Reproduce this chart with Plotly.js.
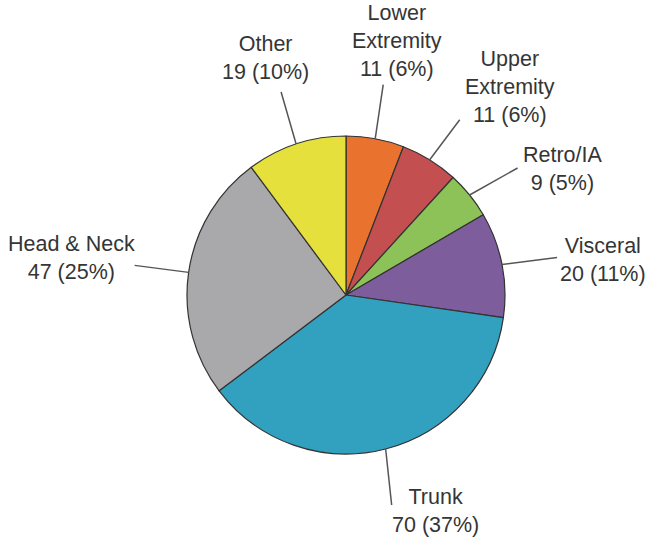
<!DOCTYPE html>
<html>
<head>
<meta charset="utf-8">
<script src="https://cdn.plot.ly/plotly-3.0.1.min.js"></script>
<style>html,body{margin:0;padding:0;background:#fff;}#chart{width:651px;height:540px;}</style>
</head>
<body>
<div id="chart"></div>
<script>
// ---- data ----
var categories = ['Lower Extremity', 'Upper Extremity', 'Retro/IA', 'Visceral', 'Trunk', 'Head & Neck', 'Other'];
var labelLines = ['Lower<br>Extremity', 'Upper<br>Extremity', 'Retro/IA', 'Visceral', 'Trunk', 'Head & Neck', 'Other'];
var counts = [11, 11, 9, 20, 70, 47, 19];
var colors = ['#E8722E', '#C44F50', '#8DC258', '#7D5D9C', '#32A0BF', '#A9A9AB', '#E6E03C'];

// ---- layout geometry (pixels) ----
var W = 651, H = 540;
var cx = 346, cy = 295, R = 159;
// label text offsets from slice edge anchor (px) and leader-line tail offsets (px)
var textOff = [[22, -98], [80, -73], [93, -26], [101, -4], [50, 62], [-117, -14], [-31, -86]];
var lineOff = [[8, -54], [30, -40], [48, -27], [55, -7], [6, 56], [-54, -7], [-15, -52]];

var total = counts.reduce(function (a, b) { return a + b; }, 0);
var annotations = [], shapes = [];
var cum = 0;
function px2x(px) { return px / W; }
function py2y(py) { return 1 - py / H; }
for (var i = 0; i < counts.length; i++) {
  var mid = (cum + counts[i] / 2) / total * 2 * Math.PI;
  cum += counts[i];
  var ax = cx + R * Math.sin(mid), ay = cy - R * Math.cos(mid);
  var pct = Math.round(counts[i] / total * 100);
  annotations.push({
    xref: 'paper', yref: 'paper',
    x: px2x(ax + textOff[i][0]), y: py2y(ay + textOff[i][1]),
    xanchor: 'center', yanchor: 'middle', align: 'center',
    showarrow: false,
    text: labelLines[i] + '<br>' + counts[i] + ' (' + pct + '%)',
    font: {family: 'Liberation Sans, Arial, sans-serif', size: 21.5, color: '#353535'}
  });
  shapes.push({
    type: 'line', xref: 'paper', yref: 'paper',
    x0: px2x(ax), y0: py2y(ay),
    x1: px2x(ax + lineOff[i][0]), y1: py2y(ay + lineOff[i][1]),
    line: {color: '#555555', width: 1.5}
  });
}

var trace = {
  type: 'pie',
  labels: categories,
  values: counts,
  sort: false,
  direction: 'clockwise',
  rotation: 0,
  textinfo: 'none',
  hoverinfo: 'label+value+percent',
  marker: {colors: colors, line: {color: '#333333', width: 1.2}},
  domain: {x: [(cx - R) / W, (cx + R) / W], y: [1 - (cy + R) / H, 1 - (cy - R) / H]},
  showlegend: false
};

var layout = {
  width: W, height: H,
  margin: {l: 0, r: 0, t: 0, b: 0},
  paper_bgcolor: '#ffffff',
  showlegend: false,
  annotations: annotations,
  shapes: shapes
};

Plotly.newPlot('chart', [trace], layout, {displayModeBar: false, staticPlot: true});
</script>
</body>
</html>
